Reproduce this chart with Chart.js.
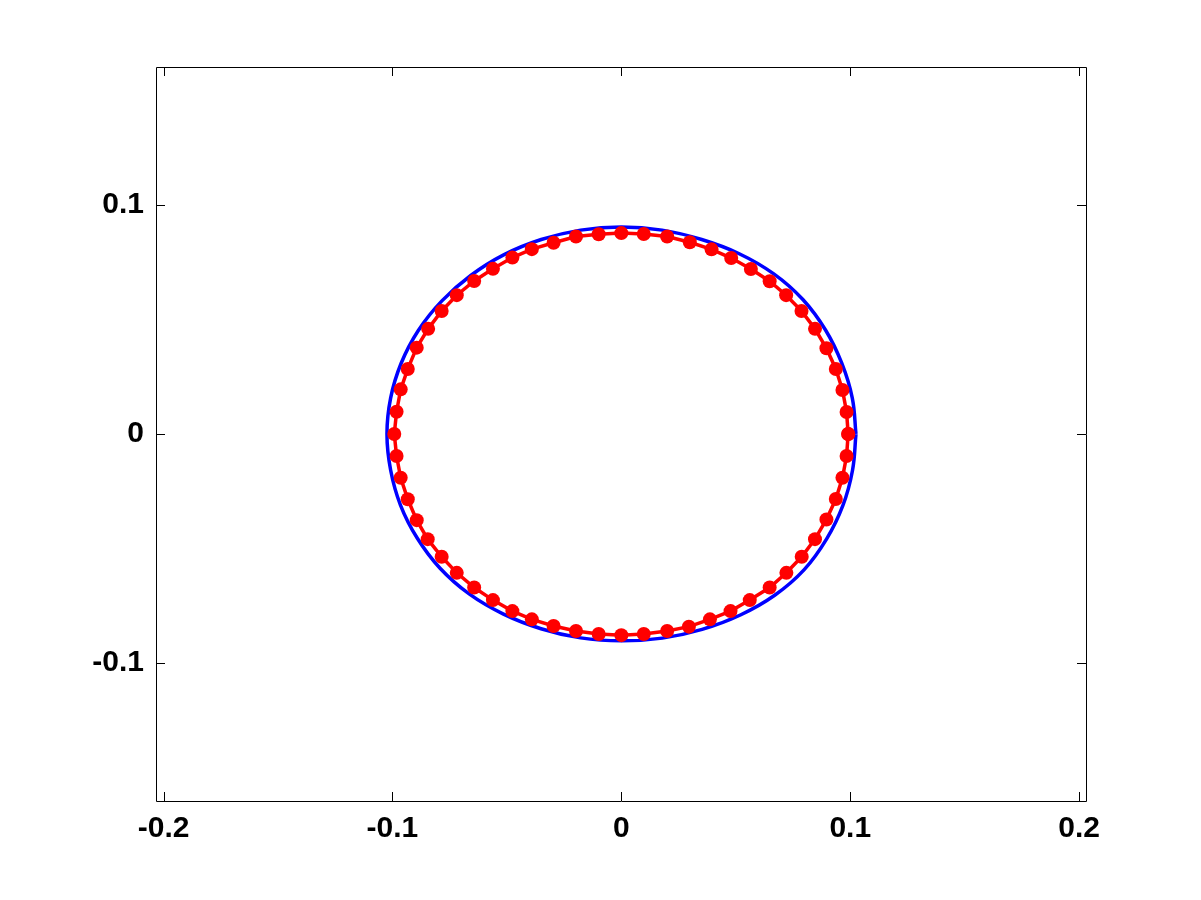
<!DOCTYPE html>
<html>
<head>
<meta charset="utf-8">
<script src="https://cdn.jsdelivr.net/npm/chart.js@4.4.0/dist/chart.umd.min.js"></script>
<style>
  html, body { margin: 0; padding: 0; background: #fff; }
  #wrap { width: 1201px; height: 900px; }
</style>
</head>
<body>
<div id="wrap"><canvas id="plot" width="1201" height="900"></canvas></div>
<script>
// tick labels
const xTicks = [-0.2, -0.1, 0, 0.1, 0.2];
const yTicks = [-0.1, 0, 0.1];

// blue curve (every ~10 degrees)
const blueX = [0.1025, 0.1009, 0.0963, 0.0892, 0.0793, 0.0666, 0.0515, 0.0351, 0.0178, 0.0000,
  -0.0178, -0.0350, -0.0512, -0.0658, -0.0784, -0.0887, -0.0962, -0.1008, -0.1024,
  -0.1008, -0.0965, -0.0892, -0.0792, -0.0665, -0.0515, -0.0351, -0.0178, 0.0000,
  0.0179, 0.0353, 0.0520, 0.0670, 0.0799, 0.0897, 0.0968, 0.1010, 0.1025];
const blueY = [0.0000, 0.0157, 0.0309, 0.0454, 0.0587, 0.0699, 0.0787, 0.0849, 0.0890, 0.0904,
  0.0890, 0.0849, 0.0783, 0.0692, 0.0581, 0.0452, 0.0309, 0.0157, 0.0000,
  -0.0157, -0.0310, -0.0454, -0.0586, -0.0698, -0.0786, -0.0850, -0.0890, -0.0903,
  -0.0891, -0.0853, -0.0790, -0.0704, -0.0592, -0.0458, -0.0312, -0.0158, 0.0000];

// red markers
const redX = [0.0991, 0.0984, 0.0966, 0.0937, 0.0896, 0.0846, 0.0787, 0.0720, 0.0648, 0.0566, 0.0480, 0.0394, 0.0299, 0.0200, 0.0098, 0.0000,
  -0.0099, -0.0198, -0.0296, -0.0391, -0.0476, -0.0561, -0.0643, -0.0719, -0.0785, -0.0844, -0.0894, -0.0933, -0.0964, -0.0982, -0.0992,
  -0.0982, -0.0964, -0.0933, -0.0894, -0.0846, -0.0785, -0.0719, -0.0643, -0.0561, -0.0476, -0.0391, -0.0296, -0.0198, -0.0099, 0.0000,
  0.0098, 0.0200, 0.0295, 0.0387, 0.0477, 0.0561, 0.0648, 0.0721, 0.0788, 0.0846, 0.0896, 0.0937, 0.0966, 0.0984, 0.0991];
const redY = [0.0000, 0.0096, 0.0192, 0.0284, 0.0374, 0.0459, 0.0537, 0.0606, 0.0667, 0.0720, 0.0768, 0.0806, 0.0837, 0.0862, 0.0873, 0.0877,
  0.0872, 0.0862, 0.0835, 0.0807, 0.0770, 0.0721, 0.0668, 0.0606, 0.0537, 0.0459, 0.0377, 0.0284, 0.0195, 0.0097, 0.0000,
  -0.0096, -0.0191, -0.0285, -0.0376, -0.0459, -0.0536, -0.0606, -0.0670, -0.0725, -0.0773, -0.0809, -0.0838, -0.0860, -0.0873, -0.0878,
  -0.0873, -0.0860, -0.0841, -0.0809, -0.0773, -0.0725, -0.0670, -0.0606, -0.0536, -0.0459, -0.0373, -0.0284, -0.0191, -0.0096, 0.0000];

const toPts = (xs, ys) => xs.map((x, i) => ({ x: x, y: ys[i] }));

// box + inward ticks, matlab style
const boxPlugin = {
  id: 'box',
  afterDatasetsDraw(chart) {
    const { ctx, chartArea: a, scales } = chart;
    const len = 9;
    ctx.save();
    ctx.strokeStyle = '#000';
    ctx.lineWidth = 1;
    ctx.beginPath();
    ctx.rect(a.left + 0.5, a.top + 0.5, a.right - a.left, a.bottom - a.top);
    xTicks.forEach(v => {
      const px = Math.round(scales.x.getPixelForValue(v)) + 0.5;
      ctx.moveTo(px, a.bottom); ctx.lineTo(px, a.bottom - len);
      ctx.moveTo(px, a.top); ctx.lineTo(px, a.top + len);
    });
    yTicks.forEach(v => {
      const py = Math.round(scales.y.getPixelForValue(v)) + 0.5;
      ctx.moveTo(a.left, py); ctx.lineTo(a.left + len, py);
      ctx.moveTo(a.right, py); ctx.lineTo(a.right - len, py);
    });
    ctx.stroke();
    ctx.restore();
  }
};

const tickFont = { family: '"Liberation Sans", Arial, sans-serif', size: 30, weight: 'bold' };

new Chart(document.getElementById('plot'), {
  type: 'scatter',
  data: {
    datasets: [
      {
        data: toPts(redX, redY),
        showLine: true,
        borderColor: '#ff0000',
        borderWidth: 3.5,
        backgroundColor: '#ff0000',
        pointRadius: 7,
        pointBorderWidth: 0,
        pointBackgroundColor: '#ff0000',
        order: 0
      },
      {
        data: toPts(blueX, blueY),
        showLine: true,
        borderColor: '#0000ff',
        borderWidth: 3.5,
        pointRadius: 0,
        tension: 0.4,
        order: 1
      }
    ]
  },
  options: {
    responsive: false,
    animation: false,
    layout: { padding: { left: 56, right: 115, top: 67, bottom: 39 } },
    plugins: { legend: { display: false }, tooltip: { enabled: false } },
    scales: {
      x: {
        type: 'linear', min: -0.2033, max: 0.2030,
        afterFit: s => { s.height = 60; },
        afterBuildTicks: s => { s.ticks = xTicks.map(v => ({ value: v })); },
        grid: { display: false, drawTicks: false },
        border: { display: false },
        ticks: { color: '#000', font: tickFont, padding: 10, maxRotation: 0, autoSkip: false,
                 callback: v => String(Math.round(v * 10) / 10) }
      },
      y: {
        type: 'linear', min: -0.1602, max: 0.1602,
        afterFit: s => { s.width = 100; },
        afterBuildTicks: s => { s.ticks = yTicks.map(v => ({ value: v })); },
        grid: { display: false, drawTicks: false },
        border: { display: false },
        ticks: { color: '#000', font: tickFont, padding: 12, autoSkip: false,
                 callback: v => String(Math.round(v * 10) / 10) }
      }
    }
  },
  plugins: [boxPlugin]
});
</script>
</body>
</html>
